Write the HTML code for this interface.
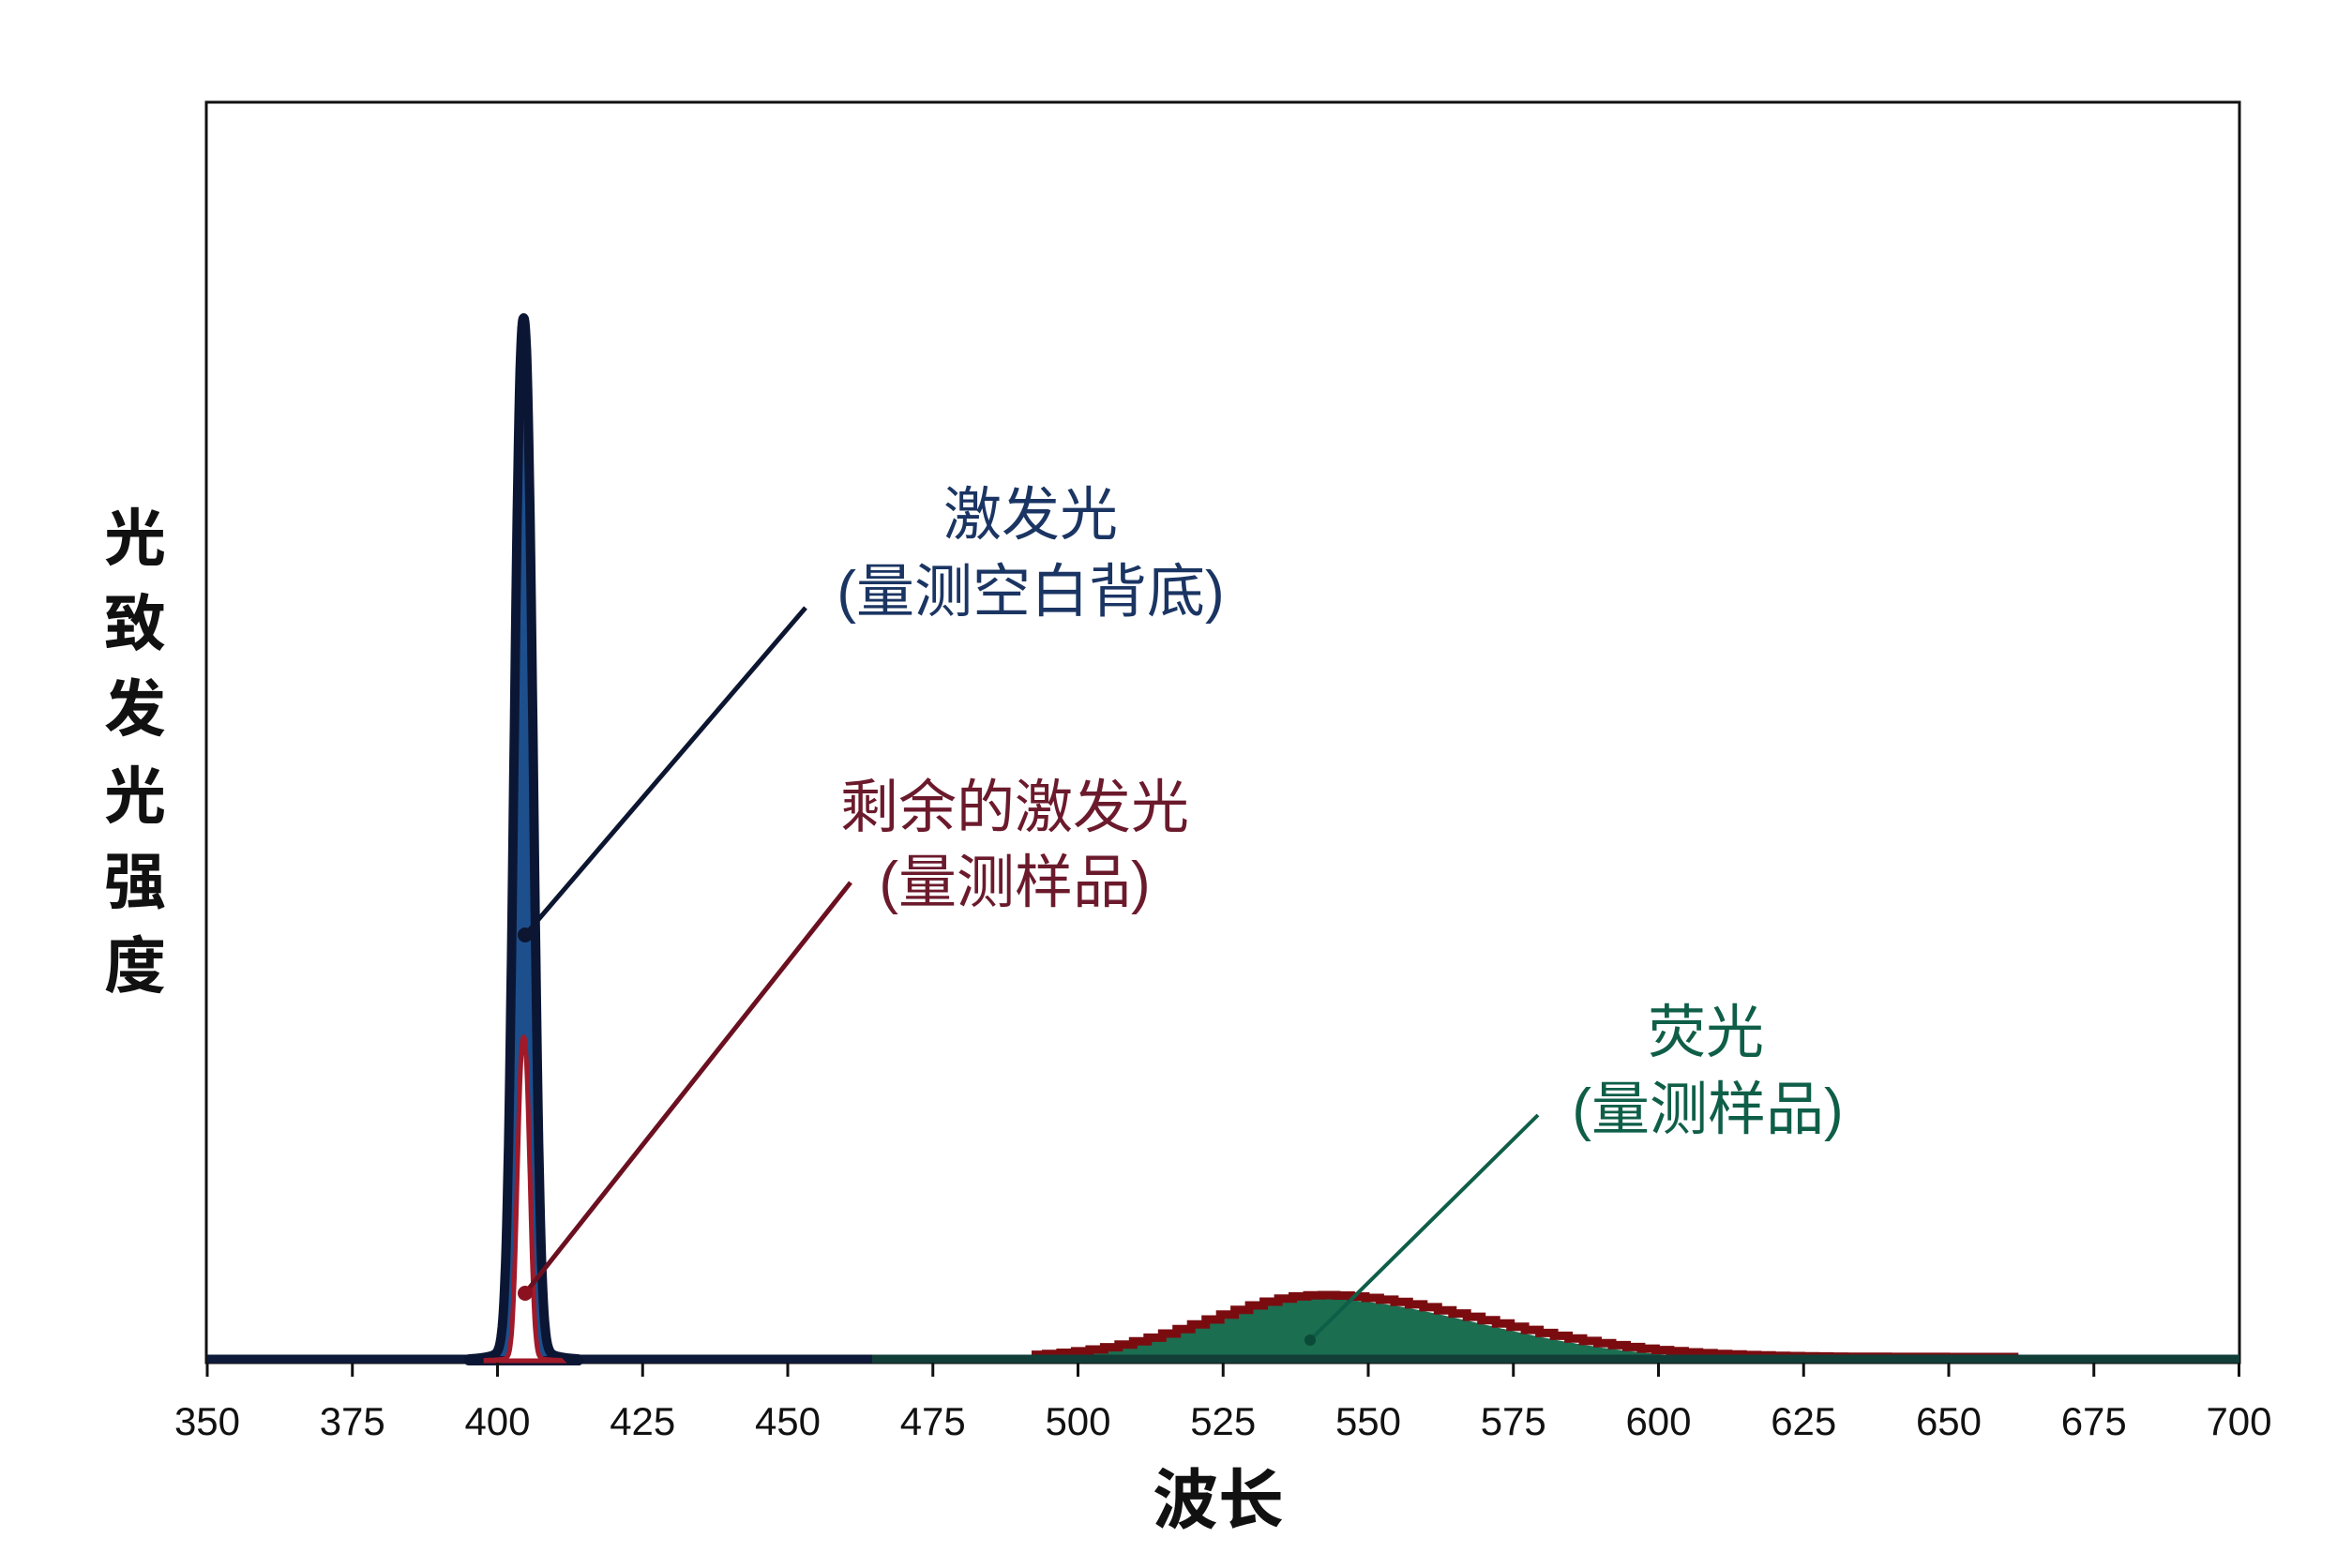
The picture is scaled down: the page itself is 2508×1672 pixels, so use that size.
<!DOCTYPE html>
<html><head><meta charset="utf-8"><style>
html,body{margin:0;padding:0;background:#fff;}
svg{display:block}
</style></head><body>
<svg id="s" width="2508" height="1672" viewBox="0 0 2508 1672" xmlns="http://www.w3.org/2000/svg" font-family="'Liberation Sans','Noto Sans CJK SC',sans-serif">
<rect width="2508" height="1672" fill="#fff"/>
<rect x="220" y="109" width="2168" height="1344" fill="none" stroke="#111" stroke-width="3"/>
<g id="curves"></g>
<g id="ticks" font-size="42" fill="#111" text-anchor="middle"></g>
<g font-size="66" fill="#111" font-weight="bold" text-anchor="middle">
<text x="144" y="597">光</text><text x="144" y="688">致</text><text x="144" y="779">发</text><text x="144" y="872">光</text><text x="144" y="963">强</text><text x="144" y="1053">度</text>
<text x="1299" y="1624" font-size="70">波长</text>
</g>
<g font-size="62" text-anchor="middle">
<text x="1099" y="570" fill="#1b3563">激发光</text>
<text x="1099" y="652" fill="#1b3563">(量测空白背底)</text>
<text x="1082" y="882" fill="#6b1a2c">剩余的激发光</text>
<text x="1082" y="962" fill="#6b1a2c">(量测样品)</text>
<text x="1819" y="1122" fill="#0f5e48">荧光</text>
<text x="1821" y="1204" fill="#0f5e48">(量测样品)</text>
</g>
<line x1="560" y1="997" x2="859" y2="648" stroke="#0d1630" stroke-width="5"/>
<circle cx="560" cy="997" r="8" fill="#0d1630"/>
<line x1="560" y1="1379" x2="907" y2="941" stroke="#6b1020" stroke-width="5"/>
<circle cx="560" cy="1379" r="8" fill="#8b1020"/>
<line x1="1397" y1="1429" x2="1640" y2="1189" stroke="#0f5e48" stroke-width="4"/>
<circle cx="1397" cy="1429" r="6" fill="#0b4a38"/>
</svg>
<script>
const X=w=>221+(w-350)*6.19, B=1451;
const ns="http://www.w3.org/2000/svg";
const cg=document.getElementById('curves'), tg=document.getElementById('ticks');
function el(n,a,p){const e=document.createElementNS(ns,n);for(const k in a)e.setAttribute(k,a[k]);(p||cg).appendChild(e);return e;}
for(let w=350;w<=700;w+=25){const x=X(w);el('line',{x1:x,y1:1453,x2:x,y2:1468,stroke:'#111','stroke-width':3},tg);const t=el('text',{x:x,y:1530},tg);t.textContent=w;}
function g(w){return w<541?66*Math.exp(-Math.pow((w-541)/19,2)/2):66*Math.exp(-Math.pow((w-541)/28,2)/2);}
let d='M'+X(470)+' '+B;for(let w=470;w<=680;w+=0.5)d+=' L'+X(w).toFixed(1)+' '+(B-g(w)).toFixed(1);d+=' L'+X(680)+' '+B+'Z';
el('path',{d:d,fill:'#1b6e50'});
let r='';let first=true;for(let w=492;w<=660;w+=2.5){const y=B-g(w)-4;r+=(first?'M':' L')+X(w).toFixed(1)+' '+y.toFixed(1)+' L'+X(w+2.5).toFixed(1)+' '+y.toFixed(1);first=false;}
el('path',{d:r,fill:'none',stroke:'#7a0c10','stroke-width':9});
el('line',{x1:221,y1:B-2,x2:1000,y2:B-2,stroke:'#0e1a3a','stroke-width':9});
el('line',{x1:930,y1:B-2,x2:2388,y2:B-2,stroke:'#123e38','stroke-width':9});
function p(w,h,s){const z=(w-404.5)/s;return h*(0.95*Math.exp(-Math.pow(Math.abs(z),2.4)/2)+0.05/(1+z*z*0.8));}
let b='M'+X(395)+' '+B;for(let w=395;w<=414;w+=0.1)b+=' L'+X(w).toFixed(1)+' '+(B-p(w,1112,1.6)).toFixed(1);b+=' L'+X(414)+' '+B+'Z';
el('path',{d:b,fill:'#1d4f8c',stroke:'#0b1634','stroke-width':10,'stroke-linejoin':'round'});
let rr='M'+X(398)+' '+B;for(let w=398;w<=411;w+=0.1)rr+=' L'+X(w).toFixed(1)+' '+(B-p(w,345,1.05)).toFixed(1);rr+=' L'+X(411)+' '+B+'Z';
el('path',{d:rr,fill:'#fff',stroke:'#a01a2a','stroke-width':5});
</script>
</body></html>
